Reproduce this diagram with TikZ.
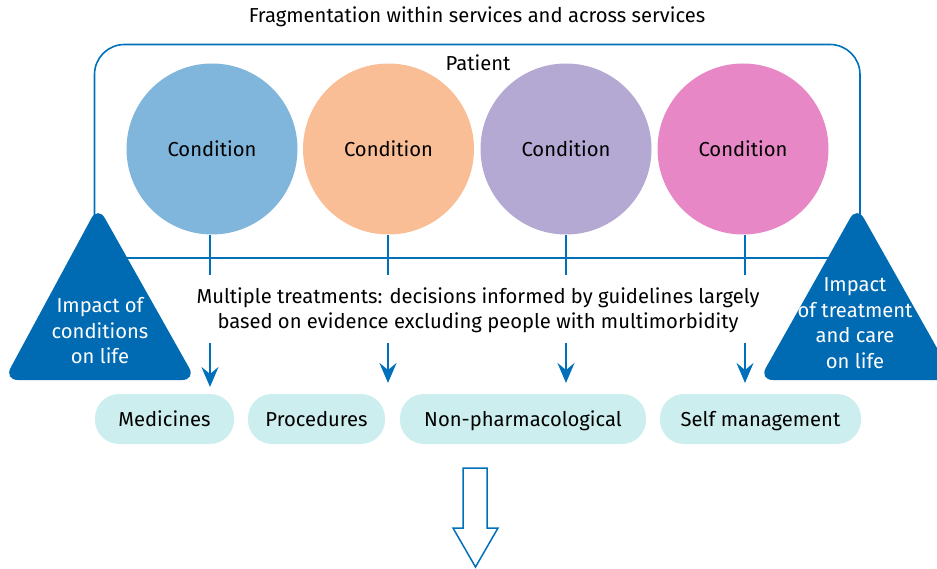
\documentclass[tikz,border=0pt]{standalone}
\usepackage{fontspec}
\setmainfont{Fira Sans}
\usetikzlibrary{arrows.meta}
\definecolor{lineblue}{RGB}{0,112,186}
\definecolor{triblue}{RGB}{0,106,178}
\definecolor{cA}{RGB}{128,182,220}
\definecolor{cB}{RGB}{249,190,150}
\definecolor{cC}{RGB}{180,169,210}
\definecolor{cD}{RGB}{232,135,197}
\definecolor{pillc}{RGB}{205,238,238}
\tikzset{
  cond/.style={circle,minimum size=171pt,inner sep=0pt,font=\fontsize{20.2}{24}\selectfont},
  pill/.style={rounded corners=24pt,fill=pillc,minimum height=50pt,inner sep=0pt,text height=16pt,text depth=2pt,font=\fontsize{20.2}{24}\selectfont},
  bline/.style={draw=lineblue,line width=2.5pt},
  barrow/.style={draw=lineblue,line width=2.5pt,-{Stealth[length=20pt,width=17pt,inset=7pt]}},
  txt/.style={font=\fontsize{20.2}{25}\selectfont,align=center,inner sep=0pt},
  wtxt/.style={font=\fontsize{20.2}{25.5}\selectfont,align=center,inner sep=0pt,text=white},
  tri/.style={fill=triblue,rounded corners=14pt}
}
\begin{document}
\begin{tikzpicture}[x=1pt,y=-1pt]
\useasboundingbox (0,0) rectangle (937,569);
\clip (0,0) rectangle (937,569);
\node[txt] (title) at (477,17) {Fragmentation within services and across services};
% patient box
\draw[draw=lineblue,line width=1.6pt,rounded corners=30pt] (94.5,44.5) rectangle (860,258);
\node[txt] (patient) at (478,63) {Patient};
% circles
\node[cond,fill=cA] (c1) at (212,149) {Condition};
\node[cond,fill=cB] (c2) at (388.5,149) {Condition};
\node[cond,fill=cC] (c3) at (566,149) {Condition};
\node[cond,fill=cD] (c4) at (743,149) {Condition};
% stems
\coordinate (s1) at (210,275);
\coordinate (s2) at (388,275);
\coordinate (s3) at (566,275);
\coordinate (s4) at (745,275);
\draw[bline] (c1.south -| s1) -- (s1);
\draw[bline] (c2.south -| s2) -- (s2);
\draw[bline] (c3.south -| s3) -- (s3);
\draw[bline] (c4.south -| s4) -- (s4);
% text
\node[txt] (mt) at (478,310) {Multiple treatments: decisions informed by guidelines largely\\based on evidence excluding people with multimorbidity};
% arrows
\coordinate (a1) at (210,343); \coordinate (b1) at (210,387);
\coordinate (a2) at (388,343); \coordinate (b2) at (388,383);
\coordinate (a3) at (566,343); \coordinate (b3) at (566,383);
\coordinate (a4) at (745,343); \coordinate (b4) at (745,383);
\draw[barrow] (a1) -- (b1);
\draw[barrow] (a2) -- (b2);
\draw[barrow] (a3) -- (b3);
\draw[barrow] (a4) -- (b4);
% triangles
\path[tri] (98,206) -- (196,380) -- (4,380) -- cycle;
\node[wtxt] (t1) at (100,331) {Impact of\\conditions\\on life};
\path[tri] (857,206) -- (955,380) -- (759,380) -- cycle;
\node[wtxt] (t2) at (855,323) {Impact\\of treatment\\and care\\on life};
% pills
\node[pill,minimum width=139pt] (p1) at (164.5,419) {Medicines};
\node[pill,minimum width=137pt] (p2) at (316.5,419) {Procedures};
\node[pill,minimum width=246pt] (p3) at (523,419) {Non-pharmacological};
\node[pill,minimum width=201pt] (p4) at (760.5,419) {Self management};
% hollow arrow
\draw[draw=lineblue,line width=1.5pt,fill=white] (463,468) -- (487,468) -- (487,528) -- (498,528) -- (475.5,567) -- (453,528) -- (463,528) -- cycle;
\end{tikzpicture}
\end{document}
